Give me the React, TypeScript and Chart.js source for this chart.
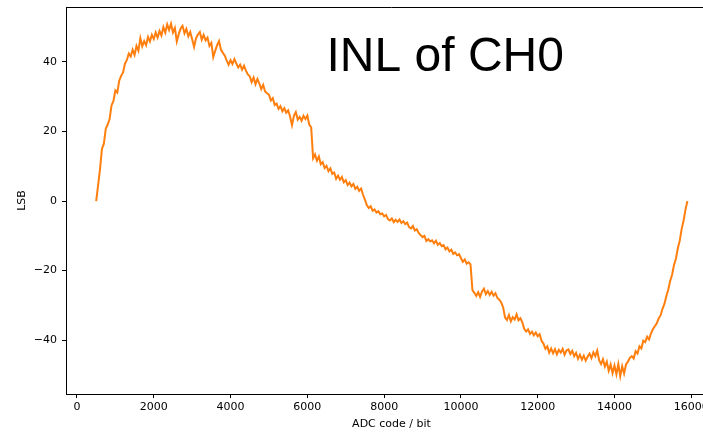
import { useEffect, useRef } from "react";
import { Chart, registerables } from "chart.js";

Chart.register(...registerables);

// ADC codes sampled every CODE_STEP, each segment starting at its own code
const CODE_STEP = 50;

const RISE_START = 500;
const RISE = [
  0.0, 4.5, 9.2, 15.0, 16.5, 20.8, 22.0, 23.6, 27.5, 28.8,
  31.8, 31.2, 34.6, 36.0, 37.0, 39.5, 40.6, 42.4, 41.6, 43.5,
  42.0, 44.6, 43.2, 46.8, 44.5, 46.0, 44.8, 47.2, 45.9, 47.8,
  46.6, 48.5, 47.0, 48.9, 47.6, 50.0, 48.4, 50.8, 49.2, 51.0,
];

const PEAK_START = 2500;
const PEAK = [
  48.5, 49.8, 45.9, 48.0, 49.6, 50.4, 48.2, 49.5, 47.4, 48.6,
  46.5, 44.3, 46.8, 47.9, 48.6, 46.4, 47.8, 46.2, 47.0, 44.6,
  45.5, 41.4, 43.2, 44.8, 46.0, 43.5, 42.6, 41.8, 40.4, 39.2,
  40.5, 39.4, 40.8, 39.6, 38.4, 39.2, 37.8, 38.9, 37.5, 36.4,
  35.9, 34.2, 35.5, 33.6, 35.1, 33.8, 32.2, 33.4, 31.5, 31.0,
  30.6, 28.9, 29.6, 27.6, 28.0, 26.5, 27.3, 25.8, 26.7, 25.4,
  26.1, 24.3, 21.8, 24.5, 25.6, 23.4, 24.2, 23.1, 24.5, 23.6,
  24.6, 22.0,
];

const DESCENT_START = 6100;
const DESCENT = [
  21.2, 12.3, 13.4, 11.6, 12.8, 10.6, 11.2, 9.5, 10.1, 8.6,
  9.4, 7.8, 8.2, 6.4, 7.3, 6.1, 6.9, 5.4, 6.0, 4.6,
  5.3, 4.2, 4.9, 3.5, 4.1, 2.9, 3.6, 1.8, 0.4, -1.2,
  -2.0, -1.5, -2.8, -2.4, -3.3, -2.9, -3.8, -3.6, -4.4, -4.0,
  -5.2, -5.6, -5.0, -6.1, -5.4, -6.0, -5.3, -6.3, -5.8, -6.6,
  -6.2, -7.5, -7.9, -7.2, -8.5, -8.1, -9.2, -9.8, -10.4, -10.0,
  -11.5, -11.0, -11.6, -11.3, -12.2, -11.4, -12.6, -12.1, -13.0, -12.7,
  -13.9, -13.4, -14.5, -14.0, -15.2, -14.8, -15.6, -15.3, -16.4, -17.5,
  -16.8, -18.0, -17.6, -18.2,
];

const DROP_START = 10300;
const DROP = [
  -25.6, -26.4, -27.3, -26.2, -27.6, -26.0, -25.2, -26.8, -25.9, -27.0,
  -26.1, -27.2, -26.5, -27.9, -28.4, -29.2, -30.6, -33.5, -34.2, -32.8,
  -34.6, -33.4, -34.1, -32.6, -34.3, -33.7, -34.9, -36.8, -37.5, -36.9,
  -38.2, -37.6, -38.6, -37.8, -38.9, -38.3, -40.2, -41.0, -42.5, -41.8,
];

const TROUGH_START = 12300;
const TROUGH = [
  -43.6, -42.4, -43.8, -42.6, -44.1, -42.8, -43.6, -42.5, -44.2, -43.0,
  -42.7, -44.0, -43.1, -44.6, -43.7, -45.4, -44.2, -45.6, -44.5, -45.9,
  -44.8, -43.9, -45.2, -43.5, -44.6, -43.0, -45.8, -46.9, -45.5, -47.6,
  -46.2, -48.8, -47.0, -49.5, -47.3, -49.8, -46.9, -50.4, -47.5, -49.6,
  -47.0, -46.2, -45.1,
];

const RECOVER_START = 14450;
const RECOVER = [
  -44.6, -45.3, -43.2, -43.9, -41.8, -42.4, -40.2, -40.6, -39.0, -39.8,
  -38.1, -36.9, -36.0, -35.2, -33.8, -32.9, -31.0, -29.6, -27.4, -25.5,
  -23.0, -21.2, -18.4, -16.6, -13.6, -11.4, -8.0, -5.6, -2.4, 0.0,
];

const X_TICKS = [0, 2000, 4000, 6000, 8000, 10000, 12000, 14000, 16000];
const Y_TICKS = [-40, -20, 0, 20, 40];

const TITLE_TEXT = "INL of CH0";
const X_LABEL = "ADC code / bit";
const Y_LABEL = "LSB";

const SEGMENTS: [number, number[]][] = [
  [RISE_START, RISE],
  [PEAK_START, PEAK],
  [DESCENT_START, DESCENT],
  [DROP_START, DROP],
  [TROUGH_START, TROUGH],
  [RECOVER_START, RECOVER],
];

const POINTS = SEGMENTS.flatMap(([start, vals]) =>
  vals.map((v, i) => ({ x: start + i * CODE_STEP, y: v }))
);

const fmt = (v: number) => (v < 0 ? "\u2212" + Math.abs(v) : String(v));

export default function App() {
  const ref = useRef<HTMLCanvasElement | null>(null);

  useEffect(() => {
    if (!ref.current) return;
    const framePlugin = {
      id: "frame",
      afterDraw(chart: any) {
        const { ctx, chartArea } = chart;
        ctx.save();
        ctx.strokeStyle = "#000";
        ctx.lineWidth = 1;
        ctx.beginPath();
        ctx.moveTo(chartArea.left, Math.round(chartArea.top) + 0.5);
        ctx.lineTo(chartArea.right, Math.round(chartArea.top) + 0.5);
        ctx.moveTo(Math.round(chartArea.right) + 0.5, chartArea.top);
        ctx.lineTo(Math.round(chartArea.right) + 0.5, chartArea.bottom);
        ctx.stroke();
        const xs = chart.scales.x;
        const ys = chart.scales.y;
        ctx.fillStyle = "#000";
        ctx.font = '48px "Liberation Sans", Arial, sans-serif';
        ctx.textAlign = "left";
        ctx.textBaseline = "alphabetic";
        ctx.fillText(TITLE_TEXT, xs.getPixelForValue(6500), ys.getPixelForValue(37.5));
        ctx.restore();
      },
    };

    const tickFont = { family: '"DejaVu Sans", sans-serif', size: 11 };
    const chart = new Chart(ref.current, {
      type: "line",
      data: {
        datasets: [
          {
            data: POINTS,
            borderColor: "#ff7f0e",
            borderWidth: 2,
            pointRadius: 0,
            tension: 0,
            fill: false,
          },
        ],
      },
      options: {
        responsive: false,
        animation: false,
        layout: { padding: { left: 0, top: 7, right: 23, bottom: 0 } },
        plugins: { legend: { display: false }, tooltip: { enabled: false } },
        scales: {
          x: {
            type: "linear",
            min: -286,
            max: 16670,
            afterBuildTicks: (s: any) => {
              s.ticks = X_TICKS.map((v) => ({ value: v }));
            },
            afterFit: (s: any) => {
              s.height = 39;
              s.paddingLeft = 0;
              s.paddingRight = 0;
            },
            grid: { drawOnChartArea: false, drawTicks: true, tickLength: 4, color: "#000" },
            border: { display: true, color: "#000", width: 1 },
            ticks: { color: "#000", font: tickFont, padding: 3, maxRotation: 0, autoSkip: false, callback: (v: any) => fmt(Number(v)) },
            title: { display: true, text: X_LABEL, color: "#000", font: tickFont, padding: { top: 0, bottom: 2 } },
          },
          y: {
            type: "linear",
            min: -55.5,
            max: 55.8,
            afterBuildTicks: (s: any) => {
              s.ticks = Y_TICKS.map((v) => ({ value: v }));
            },
            afterFit: (s: any) => {
              s.width = 66;
              s.paddingTop = 0;
              s.paddingBottom = 0;
            },
            grid: { drawOnChartArea: false, drawTicks: true, tickLength: 4, color: "#000" },
            border: { display: true, color: "#000", width: 1 },
            ticks: { color: "#000", font: tickFont, padding: 5, autoSkip: false, callback: (v: any) => fmt(Number(v)) },
            title: { display: true, text: Y_LABEL, color: "#000", font: tickFont, padding: { top: 16, bottom: 0 } },
          },
        },
      },
      plugins: [framePlugin],
    } as any);
    return () => chart.destroy();
  }, []);

  return (
    <div style={{ position: "fixed", left: 0, top: 0, width: 703, height: 433, overflow: "hidden", background: "#fff" }}>
      <canvas ref={ref} width={740} height={433} style={{ display: "block" }} />
    </div>
  );
}
